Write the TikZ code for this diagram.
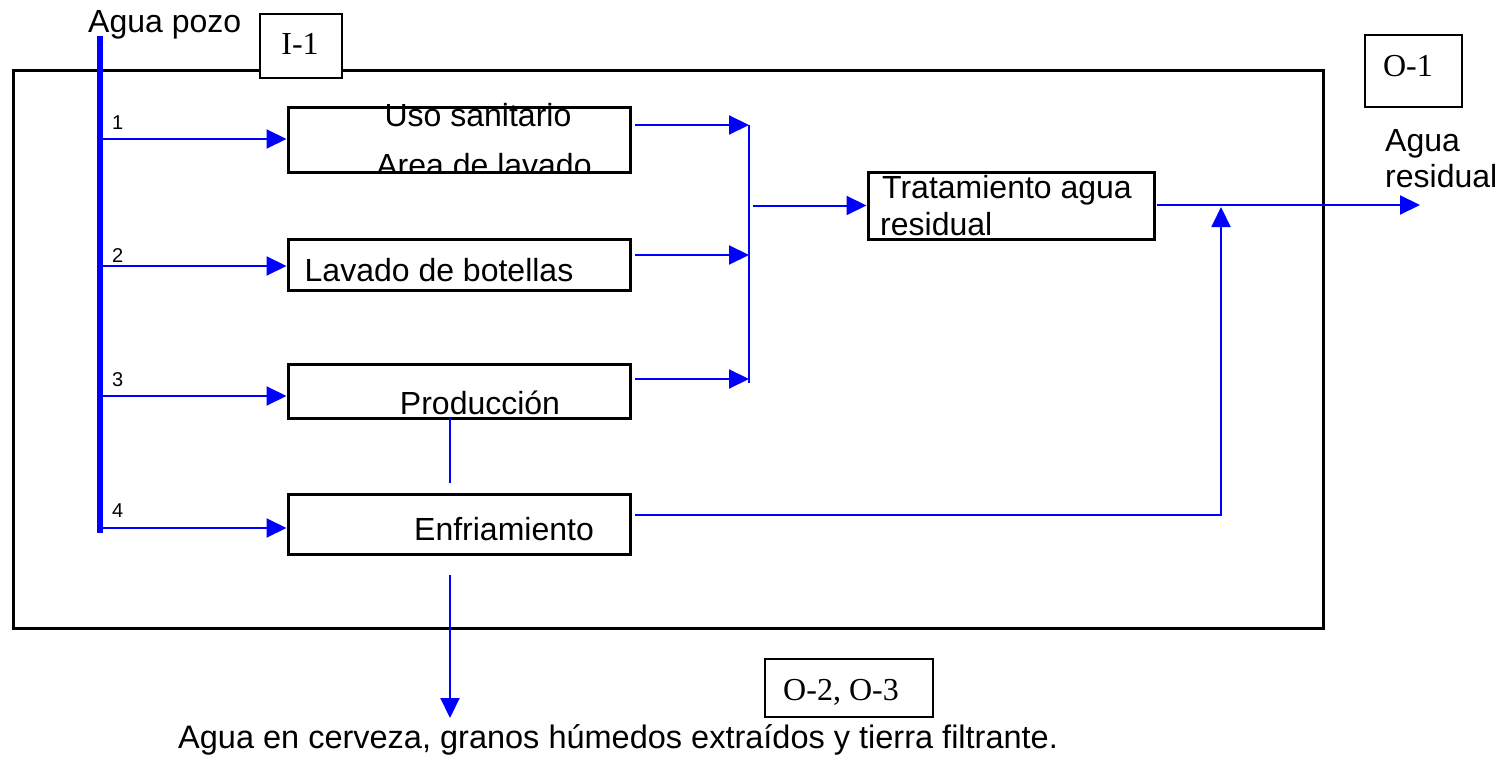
\documentclass[tikz,border=0pt]{standalone}
\usepackage{fontspec}
\setmainfont{Liberation Sans}
\newfontfamily\tnr{Liberation Serif}
\usetikzlibrary{arrows.meta}
\begin{document}
\begin{tikzpicture}[x=1pt,y=-1pt,
  flow/.style={draw=blue, line width=2pt, -{Triangle[length=20pt,width=19pt]}},
  plain/.style={draw=blue, line width=2pt},
  procbox/.style={draw=black, line width=3pt, minimum width=342pt, inner sep=0pt},
  tagbox/.style={draw=black, line width=1.5pt, fill=white, inner sep=0pt},
  tagtxt/.style={inner sep=0pt, font=\tnr\fontsize{32}{36}\selectfont},
  txt/.style={inner sep=0pt, font=\fontsize{32}{36}\selectfont},
  num/.style={inner sep=0pt, font=\fontsize{20}{24}\selectfont}]
\useasboundingbox (0,0) rectangle (1504,757);
% outer frame
\node[draw=black, line width=3pt, minimum width=1310pt, minimum height=557pt, inner sep=0pt] (frame) at (668,349.5) {};
% tag boxes
\node[tagbox, minimum width=82pt, minimum height=64pt] (i1) at (301,46) {};
\node[tagtxt] (i1t) at (300,44) {I-1};
\node[tagbox, minimum width=97pt, minimum height=72pt] (o1) at (1413.5,71) {};
\node[tagtxt] (o1t) at (1408,66) {O-1};
\node[tagbox, minimum width=168pt, minimum height=58pt] (o23) at (849,688) {};
\node[tagtxt, anchor=base] (o23t) at (841,700) {O-2, O-3};
% process boxes
\node[procbox, minimum height=64pt] (b1) at (459,140) {};
\node[procbox, minimum height=51pt] (b2) at (459,264.5) {};
\node[procbox, minimum height=54pt] (b3) at (459,391) {};
\node[procbox, minimum height=60pt] (b4) at (459,524) {};
\node[draw=black, line width=3pt, minimum width=286pt, minimum height=67pt, inner sep=0pt] (trat) at (1011,205.5) {};
% texts
\node[txt, anchor=base west] (tpozo) at (88,33) {Agua pozo};
\node[txt, anchor=base] (tuso) at (478,127) {Uso sanitario};
\begin{scope}
\clip (b1.north west) rectangle (b1.south east);
\node[txt, anchor=base] (tarea) at (484,176) {Area de lavado};
\end{scope}
\node[txt, anchor=base] (tlav) at (439,281) {Lavado de botellas};
\node[txt, anchor=base] (tprod) at (480,414) {Producción};
\node[txt, anchor=base] (tenf) at (504,540) {Enfriamiento};
\node[txt, anchor=base west] (ttrat1) at (882,198) {Tratamiento agua};
\node[txt, anchor=base west] (ttrat2) at (880,235) {residual};
\node[txt, anchor=base west] (tres1) at (1385,151) {Agua};
\node[txt, anchor=base west] (tres2) at (1385,187) {residual};
\node[inner sep=0pt, font=\fontsize{32.5}{36}\selectfont, anchor=base west] (tbot) at (178,748) {Agua en cerveza, granos húmedos extraídos y tierra filtrante.};
\node[num, anchor=base west] (n1) at (112,130) {1};
\node[num, anchor=base west] (n2) at (112,262) {2};
\node[num, anchor=base west] (n3) at (112,386) {3};
\node[num, anchor=base west] (n4) at (112,517) {4};
% supply bar
\coordinate (bartop) at (100,36);
\coordinate (barbot) at (100,533);
\draw[blue, line width=6pt] (bartop) -- (barbot);
\coordinate (s1) at (103,139);
\coordinate (s2) at (103,266);
\coordinate (s3) at (103,396);
\coordinate (s4) at (103,528);
\draw[flow] (s1) -- (s1 -| b1.west);
\draw[flow] (s2) -- (s2 -| b2.west);
\draw[flow] (s3) -- (s3 -| b3.west);
\draw[flow] (s4) -- (s4 -| b4.west);
% collector
\coordinate (ctop) at (749,125);
\coordinate (cbot) at (749,383);
\draw[plain] (ctop) -- (cbot);
\coordinate (e1) at (635,125);
\coordinate (e2) at (635,255);
\coordinate (e3) at (635,379);
\draw[flow] (e1) -- (e1 -| ctop);
\draw[flow] (e2) -- (e2 -| ctop);
\draw[flow] (e3) -- (e3 -| ctop);
\coordinate (cout) at (753,205.5);
\draw[flow] (cout) -- (trat.west);
% treatment output
\coordinate (tout) at (1157,205);
\coordinate (tend) at (1420,205);
\draw[flow] (tout) -- (tend);
% cooling return
\coordinate (e4) at (635,515);
\coordinate (ret) at (1221,515);
\coordinate (rettip) at (1221,207);
\draw[flow] (e4) -- (ret) -- (rettip);
% produccion - enfriamiento link
\coordinate (pl1) at (450,418);
\coordinate (pl2) at (450,483);
\draw[plain] (pl1) -- (pl2);
% down output
\coordinate (d1) at (450,575);
\coordinate (d2) at (450,718);
\draw[flow] (d1) -- (d2);
\end{tikzpicture}
\end{document}
